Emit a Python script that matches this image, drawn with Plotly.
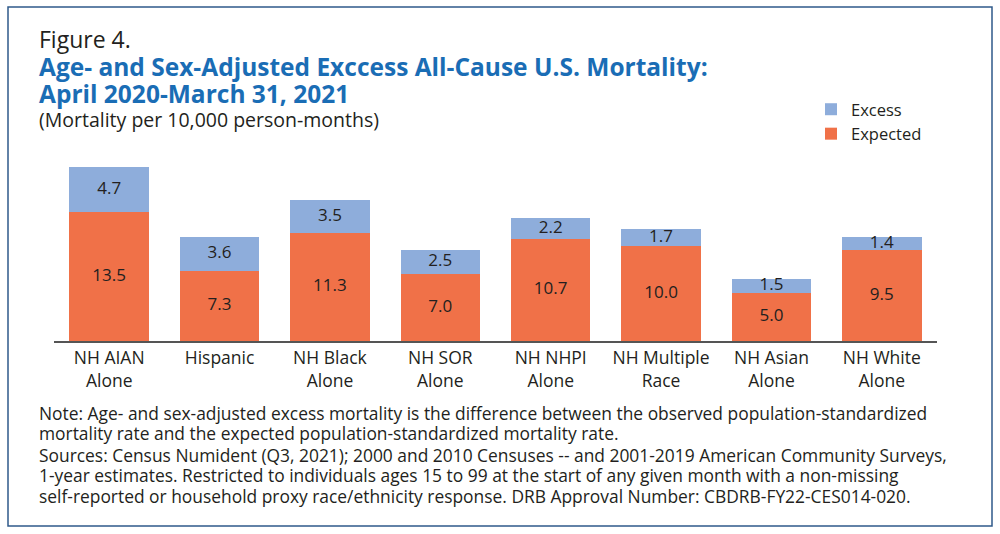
import plotly.graph_objects as go

categories = ["NH AIAN<br>Alone", "Hispanic", "NH Black<br>Alone", "NH SOR<br>Alone",
              "NH NHPI<br>Alone", "NH Multiple<br>Race", "NH Asian<br>Alone", "NH White<br>Alone"]
expected = [13.5, 7.3, 11.3, 7.0, 10.7, 10.0, 5.0, 9.5]
excess = [4.7, 3.6, 3.5, 2.5, 2.2, 1.7, 1.5, 1.4]

FONT = "Open Sans"
TXT = "#231f20"
BLUE = "#1a6db5"
C_EXP = "#f07148"
C_EXC = "#8eaddb"

fig = go.Figure()
fig.add_trace(go.Bar(
    x=categories, y=expected, name="Expected", marker=dict(color=C_EXP, line=dict(width=0)),
    width=0.72, hoverinfo="skip",
))
fig.add_trace(go.Bar(
    x=categories, y=excess, name="Excess", marker=dict(color=C_EXC, line=dict(width=0)),
    width=0.72, hoverinfo="skip",
))
# value labels centred in each segment
fig.add_trace(go.Scatter(
    x=categories, y=[e / 2 for e in expected], mode="text",
    text=[f"{v:.1f}" for v in expected], textposition="middle center",
    textfont=dict(family=FONT, size=17, color=TXT), showlegend=False, hoverinfo="skip",
))
fig.add_trace(go.Scatter(
    x=categories, y=[e + x / 2 for e, x in zip(expected, excess)], mode="text",
    text=[f"{v:.1f}" for v in excess], textposition="middle center",
    textfont=dict(family=FONT, size=17, color=TXT), showlegend=False, hoverinfo="skip",
))

fig.update_layout(
    barmode="stack",
    width=1000, height=534,
    margin=dict(l=54, r=63, t=150, b=193),
    paper_bgcolor="white", plot_bgcolor="white",
    font=dict(family=FONT, color=TXT),
    showlegend=True,
    legend=dict(
        x=(811 - 54) / 883, y=(341 - 92) / 191, xanchor="left", yanchor="top",
        traceorder="reversed",
        font=dict(family=FONT, size=16.5, color=TXT),
        itemwidth=30, tracegroupgap=0,
        bgcolor="rgba(0,0,0,0)",
    ),
    xaxis=dict(
        showline=True, linecolor="#555555", linewidth=1.5, ticks="",
        tickfont=dict(family=FONT, size=17.5, color=TXT), showgrid=False,
    ),
    yaxis=dict(range=[0, 20], visible=False, showgrid=False),
)

annos = [
    dict(x=37, y=39, text="Figure 4.", size=23, color=TXT),
    dict(x=37, y=67, text="<b>Age- and Sex-Adjusted Exccess All-Cause U.S. Mortality:</b>", size=24.5, color=BLUE),
    dict(x=37, y=94, text="<b>April 2020-March 31, 2021</b>", size=24.5, color=BLUE),
    dict(x=37, y=119, text="(Mortality per 10,000 person-months)", size=19.5, color=TXT),
    dict(x=37, y=413, text="Note: Age- and sex-adjusted excess mortality is the difference between the observed population-standardized", size=17.4, color=TXT),
    dict(x=37, y=433, text="mortality rate and the expected population-standardized mortality rate.", size=17.4, color=TXT),
    dict(x=37, y=455, text="Sources: Census Numident (Q3, 2021); 2000 and 2010 Censuses -- and 2001-2019 American Community Surveys,", size=17.4, color=TXT),
    dict(x=37, y=475, text="1-year estimates. Restricted to individuals ages 15 to 99 at the start of any given month with a non-missing", size=17.4, color=TXT),
    dict(x=37, y=496, text="self-reported or household proxy race/ethnicity response. DRB Approval Number: CBDRB-FY22-CES014-020.", size=17.4, color=TXT),
]
for a in annos:
    fig.add_annotation(
        xref="paper", yref="paper", x=(a["x"] - 54) / 883, y=(341 - a["y"]) / 191,
        text=a["text"], showarrow=False, xanchor="left", yanchor="middle",
        font=dict(family=FONT, size=a["size"], color=a["color"]),
    )

# outer border
fig.add_shape(type="rect", xref="paper", yref="paper",
              x0=(8 - 54) / 883, x1=(992 - 54) / 883,
              y0=(341 - 526) / 191, y1=(341 - 7) / 191,
              line=dict(color="#2f5a8a", width=1.5), fillcolor="rgba(0,0,0,0)", layer="below")

fig.write_html("out.html", config={"displayModeBar": False},
               post_script="document.body.style.margin='0';document.body.style.padding='0';")
